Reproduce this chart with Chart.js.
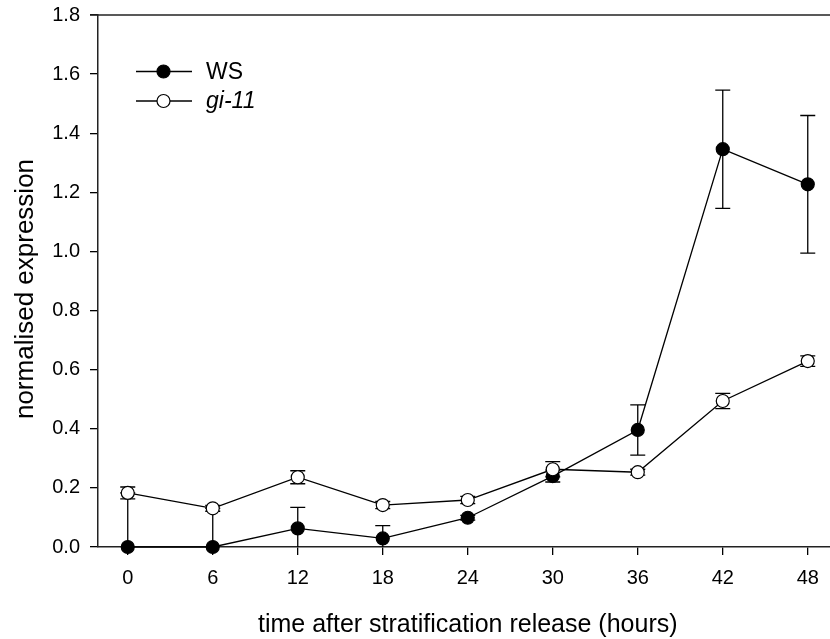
<!DOCTYPE html>
<html>
<head>
<meta charset="utf-8">
<script src="https://cdn.jsdelivr.net/npm/chart.js@4/dist/chart.umd.min.js"></script>
<style>
html,body{margin:0;padding:0;background:#fff;overflow:hidden;}
#wrap{width:830px;height:639px;position:relative;}
</style>
</head>
<body>
<div id="wrap"><canvas id="c"></canvas></div>
<script>
// ---- data ----
const hours = [0, 6, 12, 18, 24, 30, 36, 42, 48];
const xTickValues = [0, 6, 12, 18, 24, 30, 36, 42, 48];
const wsMean = [0, 0, 0.063, 0.029, 0.099, 0.240, 0.396, 1.346, 1.227];
const wsErr  = [0.183, 0.131, 0.071, 0.043, 0.008, 0.020, 0.085, 0.200, 0.233];
const giMean = [0.183, 0.131, 0.236, 0.142, 0.159, 0.263, 0.253, 0.494, 0.629];
const giErr  = [0.020, 0.010, 0.022, 0.012, 0.012, 0.026, 0.010, 0.026, 0.018];
const seriesNames = ['WS', 'gi-11'];
const xTitle = 'time after stratification release (hours)';
const yTitle = 'normalised expression';

const FONT = '"Liberation Sans", Arial, sans-serif';
const toPts = (xs, ys) => xs.map((x, i) => ({x: x, y: ys[i]}));

const errorBars = {
  id: 'errorBars',
  beforeDatasetsDraw(chart) {
    const ctx = chart.ctx, ca = chart.chartArea, ys = chart.scales.y;
    ctx.save();
    ctx.beginPath();
    ctx.rect(ca.left, ca.top - 2, ca.right - ca.left, ca.bottom - ca.top + 2);
    ctx.clip();
    ctx.strokeStyle = '#000';
    ctx.lineWidth = 1.3;
    chart.data.datasets.forEach((ds, di) => {
      const meta = chart.getDatasetMeta(di);
      ds.errors.forEach((e, i) => {
        const pt = meta.data[i];
        const v = ds.data[i].y;
        const x = pt.x;
        const yt = ys.getPixelForValue(v + e), yb = ys.getPixelForValue(v - e);
        ctx.beginPath();
        ctx.moveTo(x, yt); ctx.lineTo(x, yb);
        ctx.moveTo(x - 7.5, yt); ctx.lineTo(x + 7.5, yt);
        ctx.moveTo(x - 7.5, yb); ctx.lineTo(x + 7.5, yb);
        ctx.stroke();
      });
    });
    ctx.restore();
  }
};

const decor = {
  id: 'decor',
  afterDraw(chart) {
    const ctx = chart.ctx, ca = chart.chartArea;
    ctx.save();
    // top frame line
    ctx.strokeStyle = '#222';
    ctx.lineWidth = 1.5;
    ctx.beginPath();
    ctx.moveTo(ca.left - 8, ca.top);
    ctx.lineTo(ca.right, ca.top);
    ctx.stroke();
    // titles
    ctx.fillStyle = '#000';
    ctx.font = '25px ' + FONT;
    ctx.textAlign = 'center';
    ctx.textBaseline = 'alphabetic';
    const xs = chart.scales.x;
    ctx.fillText(xTitle, (xs.getPixelForValue(0) + xs.getPixelForValue(48)) / 2, 632);
    ctx.save();
    ctx.font = '26px ' + FONT;
    ctx.textBaseline = 'middle';
    ctx.translate(26, 289);
    ctx.rotate(-Math.PI / 2);
    ctx.fillText(yTitle, 0, 0);
    ctx.restore();
    // legend
    const items = [
      {y: 71.5, fill: '#000', label: seriesNames[0], italic: false},
      {y: 101, fill: '#fff', label: seriesNames[1], italic: true}
    ];
    items.forEach(it => {
      ctx.strokeStyle = '#000';
      ctx.lineWidth = 1.3;
      ctx.beginPath();
      ctx.moveTo(136, it.y); ctx.lineTo(192, it.y);
      ctx.stroke();
      ctx.beginPath();
      ctx.arc(163.5, it.y, 6.5, 0, Math.PI * 2);
      ctx.fillStyle = it.fill;
      ctx.fill();
      ctx.lineWidth = 1.2;
      ctx.stroke();
      ctx.fillStyle = '#000';
      ctx.font = (it.italic ? 'italic ' : '') + '23px ' + FONT;
      ctx.textAlign = 'left';
      ctx.textBaseline = 'middle';
      ctx.fillText(it.label, 206, it.y + 1);
    });
    ctx.restore();
  }
};

new Chart(document.getElementById('c'), {
  type: 'line',
  data: {
    datasets: [
      {
        label: seriesNames[0], data: toPts(hours, wsMean), errors: wsErr,
        borderColor: '#000', borderWidth: 1.3, backgroundColor: '#000',
        pointBackgroundColor: '#000', pointBorderColor: '#000', pointRadius: 6.5, pointBorderWidth: 1.2,
        tension: 0, order: 1, clip: false
      },
      {
        label: seriesNames[1], data: toPts(hours, giMean), errors: giErr,
        borderColor: '#000', borderWidth: 1.3, backgroundColor: '#fff',
        pointBackgroundColor: '#fff', pointBorderColor: '#000', pointRadius: 6.5, pointBorderWidth: 1.2,
        tension: 0, order: 0, clip: false
      }
    ]
  },
  options: {
    responsive: true,
    maintainAspectRatio: false,
    animation: false,
    layout: {autoPadding: false, padding: {top: 15, right: 0, left: 0, bottom: 0}},
    plugins: {legend: {display: false}, tooltip: {enabled: false}},
    scales: {
      x: {
        type: 'linear', min: -2.1, max: 49.57,
        afterBuildTicks: s => { s.ticks = xTickValues.map(v => ({value: v})); },
        afterFit: s => { s.height = 92; s.paddingLeft = 0; s.paddingRight = 0; },
        grid: {display: true, drawOnChartArea: false, drawTicks: true, tickLength: 8, color: '#000', lineWidth: 1.3},
        border: {display: true, color: '#222', width: 1.5},
        ticks: {color: '#000', font: {family: FONT, size: 20}, padding: 11, maxRotation: 0, autoSkip: false}
      },
      y: {
        type: 'linear', min: 0, max: 1.8,
        afterFit: s => { s.width = 98; s.paddingTop = 0; s.paddingBottom = 0; },
        grid: {display: true, drawOnChartArea: false, drawTicks: true, tickLength: 8, color: '#000', lineWidth: 1.3},
        border: {display: true, color: '#222', width: 1.5},
        ticks: {stepSize: 0.2, color: '#000', font: {family: FONT, size: 20}, padding: 10,
                callback: v => Number(v).toFixed(1)}
      }
    }
  },
  plugins: [errorBars, decor]
});
</script>
</body>
</html>
